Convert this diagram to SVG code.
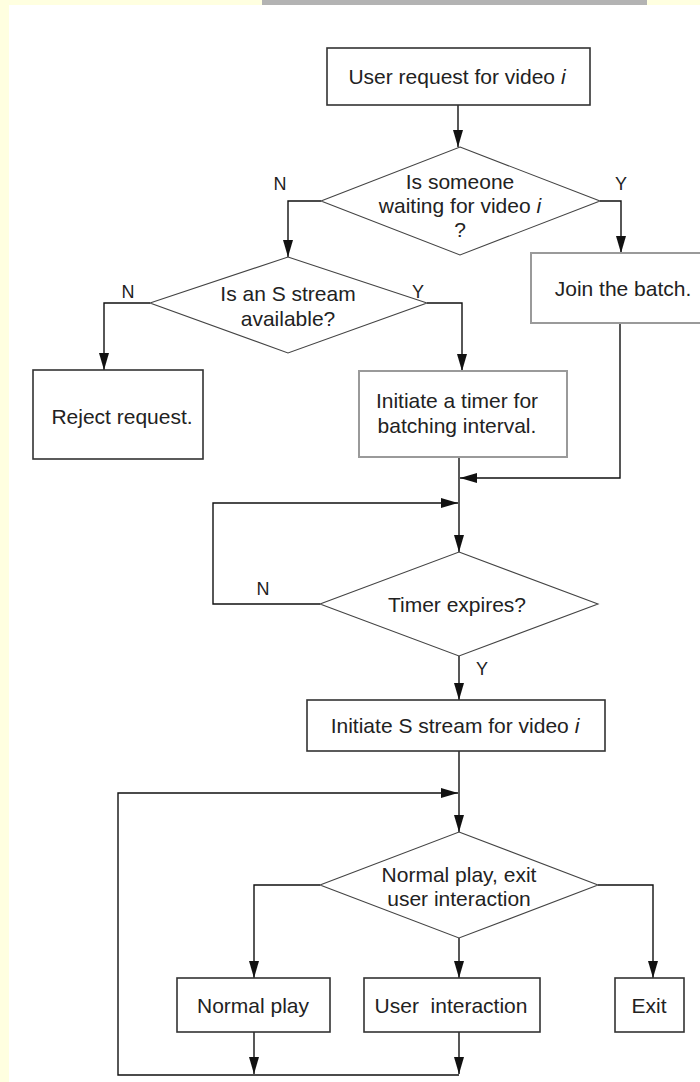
<svg xmlns="http://www.w3.org/2000/svg" width="700" height="1082" viewBox="0 0 700 1082">
  <defs>
    <marker id="arrow" markerUnits="userSpaceOnUse" markerWidth="17" markerHeight="11" refX="17" refY="5.5" orient="auto">
      <path d="M0,0.5 L17,5.5 L0,10.5 z" fill="#111"/>
    </marker>
    <style>
      .box { fill: #fff; stroke: #333; stroke-width: 1.6; }
      .box-soft { fill: #fff; stroke: #9a9a9a; stroke-width: 2; }
      .dia { fill: #fff; stroke: #444; stroke-width: 1.1; }
      .link { fill: none; stroke: #111; stroke-width: 1.4; }
      .arr { marker-end: url(#arrow); }
      text { font-family: "Liberation Sans", Arial, sans-serif; font-size: 21px; fill: #222; text-anchor: middle; dominant-baseline: central; }
      .lbl { font-size: 18px; }
      .it { font-style: italic; }
    </style>
  </defs>

  <!-- page background -->
  <rect x="0" y="0" width="700" height="1082" fill="#ffffe0"/>
  <rect x="9" y="5" width="691" height="1077" fill="#ffffff"/>
  <rect x="262" y="0" width="385" height="5" fill="#b3b3b3"/>

  <!-- connectors -->
  <g id="connectors">
    <path class="link arr" d="M458,105 V147"/>
    <path class="link arr" d="M321,201 H288 V257"/>
    <path class="link arr" d="M600,201 H621 V253"/>
    <path class="link arr" d="M150,303 H104 V370"/>
    <path class="link arr" d="M427,303 H462 V371"/>
    <path class="link arr" d="M620,323 V478 H460"/>
    <path class="link arr" d="M459,457 V552"/>
    <path class="link arr" d="M320,604 H213 V503 H458"/>
    <path class="link arr" d="M459,656 V700"/>
    <path class="link arr" d="M459,751 V832"/>
    <path class="link arr" d="M320,885 H254 V978"/>
    <path class="link arr" d="M459,938 V978"/>
    <path class="link arr" d="M598,885 H653 V978"/>
    <path class="link arr" d="M254,1032 V1074"/>
    <path class="link arr" d="M459,1032 V1074"/>
    <path class="link arr" d="M459,1075 H118 V793 H458"/>
    <text class="lbl" x="280" y="184">N</text>
    <text class="lbl" x="621" y="184">Y</text>
    <text class="lbl" x="128" y="292">N</text>
    <text class="lbl" x="418" y="292">Y</text>
    <text class="lbl" x="263" y="589">N</text>
    <text class="lbl" x="482" y="669">Y</text>
  </g>

  <g id="user-request">
    <rect class="box" x="327" y="48" width="263" height="57"/>
    <text x="457" y="76">User request for video <tspan class="it">i</tspan></text>
  </g>

  <g id="someone-waiting">
    <polygon class="dia" points="460,147 600,201 460,255 321,201"/>
    <text x="460" y="181">Is someone</text>
    <text x="460" y="205">waiting for video <tspan class="it">i</tspan></text>
    <text x="460" y="229">?</text>
  </g>

  <g id="stream-available">
    <polygon class="dia" points="288,257 427,303 288,353 150,303"/>
    <text x="288" y="293">Is an S stream</text>
    <text x="288" y="318">available?</text>
  </g>

  <g id="join-batch">
    <rect class="box-soft" x="531" y="253" width="175" height="70"/>
    <text x="623" y="288">Join the batch.</text>
  </g>

  <g id="reject">
    <rect class="box" x="33" y="370" width="170" height="89"/>
    <text x="122" y="416">Reject request.</text>
  </g>

  <g id="start-timer">
    <rect class="box-soft" x="359" y="371" width="208" height="86"/>
    <text x="457" y="400">Initiate a timer for</text>
    <text x="457" y="425">batching interval.</text>
  </g>

  <g id="timer-expires">
    <polygon class="dia" points="459,552 598,604 459,656 320,604"/>
    <text x="457" y="604">Timer expires?</text>
  </g>

  <g id="start-stream">
    <rect class="box" x="307" y="700" width="298" height="51"/>
    <text x="455" y="725">Initiate S stream for video <tspan class="it">i</tspan></text>
  </g>

  <g id="play-choice">
    <polygon class="dia" points="459,832 598,885 459,938 320,885"/>
    <text x="459" y="874">Normal play, exit</text>
    <text x="459" y="898">user interaction</text>
  </g>

  <g id="normal-play">
    <rect class="box" x="177" y="978" width="153" height="54"/>
    <text x="253" y="1005">Normal play</text>
  </g>

  <g id="user-interaction">
    <rect class="box" x="364" y="978" width="176" height="54"/>
    <text x="451" y="1005" xml:space="preserve">User  interaction</text>
  </g>

  <g id="exit">
    <rect class="box" x="615" y="978" width="69" height="54"/>
    <text x="649" y="1005">Exit</text>
  </g>
</svg>
